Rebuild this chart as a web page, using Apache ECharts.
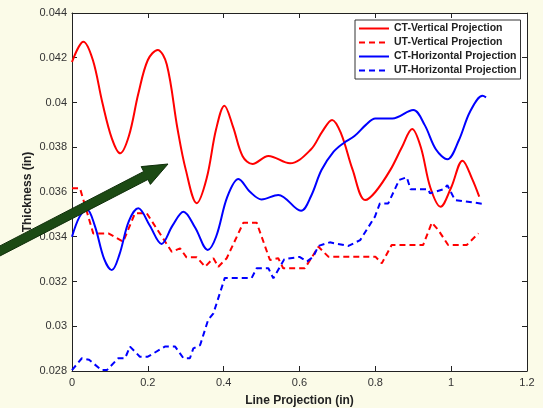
<!DOCTYPE html>
<html>
<head>
<meta charset="utf-8">
<script src="https://cdn.jsdelivr.net/npm/echarts@6/dist/echarts.min.js"></script>
<style>
html,body{margin:0;padding:0;background:#fbfbe8;}
#chart{width:543px;height:408px;}
</style>
</head>
<body>
<div id="chart"></div>
<script>
// ---- data ----
var seriesNames = ['CT-Vertical Projection', 'UT-Vertical Projection', 'CT-Horizontal Projection', 'UT-Horizontal Projection'];
var xTicks = [0, 0.2, 0.4, 0.6, 0.8, 1, 1.2];
var yTicks = [0.028, 0.03, 0.032, 0.034, 0.036, 0.038, 0.04, 0.042, 0.044];

var ctVx = [0.000,0.030,0.055,0.080,0.105,0.127,0.150,0.175,0.200,0.226,0.250,0.278,0.300,0.329,0.355,0.380,0.402,0.425,0.450,0.476,0.518,0.575,0.630,0.660,0.686,0.710,0.740,0.773,0.800,0.840,0.870,0.897,0.920,0.945,0.972,1.000,1.030,1.055,1.074];
var ctVy = [0.04181,0.04272,0.04190,0.04000,0.03840,0.03773,0.03850,0.04040,0.04190,0.04235,0.04170,0.03885,0.03700,0.03550,0.03660,0.03880,0.03986,0.03890,0.03760,0.03725,0.03761,0.03728,0.03790,0.03870,0.03922,0.03860,0.03700,0.03564,0.03600,0.03700,0.03800,0.03882,0.03800,0.03620,0.03534,0.03620,0.03740,0.03660,0.03579];

var utVx = [0.000,0.021,0.056,0.096,0.135,0.166,0.197,0.263,0.285,0.302,0.329,0.351,0.373,0.386,0.408,0.452,0.487,0.522,0.544,0.557,0.614,0.650,0.676,0.800,0.817,0.843,0.926,0.949,0.966,0.992,1.041,1.072];
var utVy = [0.03617,0.03617,0.03415,0.03415,0.03378,0.03505,0.03505,0.03333,0.03348,0.03308,0.03308,0.03266,0.03304,0.03266,0.03304,0.03463,0.03463,0.03296,0.03304,0.03259,0.03259,0.03355,0.03311,0.03311,0.03281,0.03363,0.03363,0.03463,0.03430,0.03363,0.03363,0.03415];

var ctHx = [0.000,0.020,0.039,0.060,0.085,0.105,0.125,0.150,0.175,0.205,0.236,0.265,0.294,0.325,0.358,0.380,0.410,0.439,0.470,0.500,0.544,0.604,0.630,0.658,0.690,0.716,0.745,0.775,0.800,0.845,0.900,0.930,0.960,0.990,1.020,1.050,1.083,1.092];
var ctHy = [0.03400,0.03490,0.03523,0.03450,0.03300,0.03251,0.03320,0.03470,0.03527,0.03450,0.03368,0.03450,0.03512,0.03440,0.03341,0.03400,0.03580,0.03658,0.03600,0.03567,0.03587,0.03516,0.03580,0.03698,0.03780,0.03818,0.03850,0.03900,0.03929,0.03929,0.03967,0.03900,0.03790,0.03746,0.03830,0.03960,0.04030,0.04023];

var utHx = [0.000,0.026,0.045,0.078,0.092,0.122,0.140,0.153,0.179,0.200,0.245,0.272,0.294,0.311,0.320,0.338,0.359,0.373,0.403,0.474,0.487,0.518,0.531,0.560,0.600,0.620,0.636,0.650,0.680,0.729,0.760,0.799,0.812,0.834,0.863,0.883,0.893,0.940,0.944,0.979,0.990,1.010,1.089];
var utHy = [0.02804,0.02857,0.02850,0.02804,0.02804,0.02857,0.02857,0.02909,0.02864,0.02864,0.02909,0.02909,0.02857,0.02857,0.02901,0.02916,0.03028,0.03058,0.03216,0.03216,0.03259,0.03259,0.03214,0.03300,0.03310,0.03290,0.03310,0.03359,0.03375,0.03359,0.03385,0.03490,0.03549,0.03549,0.03654,0.03666,0.03612,0.03612,0.03594,0.03612,0.03630,0.03564,0.03546];

function pairs(xs, ys){ return xs.map(function(x,i){ return [x, ys[i]]; }); }

var chart = echarts.init(document.getElementById('chart'), null, {renderer:'canvas'});
var font = 'Liberation Sans, Arial, sans-serif';
var xMin = xTicks[0], xMax = xTicks[xTicks.length-1], xInt = xTicks[1]-xTicks[0];
var yMin = yTicks[0], yMax = yTicks[yTicks.length-1], yInt = 0.002;

function yFmt(v){ return String(parseFloat(v.toFixed(3))); }
function xFmt(v){ return String(parseFloat(v.toFixed(1))); }

var option = {
  backgroundColor: '#fbfbe8',
  animation: false,
  grid: { left: 72, right: 16, top: 13, bottom: 37, containLabel: false, outerBoundsMode: 'none',
          show: true, backgroundColor: '#ffffff', borderWidth: 0 },
  legend: {
    orient: 'vertical', left: 355, top: 20,
    padding: [3, 4, 3, 3], itemGap: 3, itemWidth: 30, itemHeight: 11,
    backgroundColor: '#ffffff', borderColor: '#333', borderWidth: 1,
    itemStyle: { opacity: 0 },
    textStyle: { fontFamily: font, fontWeight: 'bold', fontSize: 10.5, color: '#222' },
    data: seriesNames
  },
  xAxis: [{
    type: 'value', min: xMin, max: xMax, interval: xInt,
    name: 'Line Projection (in)', nameLocation: 'middle', nameGap: 24, nameMoveOverlap: false,
    nameTextStyle: { fontFamily: font, fontWeight: 'bold', fontSize: 12, color: '#222' },
    axisLine: { show: true, onZero: false, lineStyle: { color: '#222', width: 1 } },
    axisTick: { show: true, inside: true, length: 5, lineStyle: { color: '#222' } },
    axisLabel: { fontFamily: font, fontSize: 11, color: '#333', margin: 6, formatter: xFmt },
    splitLine: { show: false }
  }, {
    type: 'value', position: 'top', min: xMin, max: xMax, interval: xInt,
    axisLine: { show: true, onZero: false, lineStyle: { color: '#222', width: 1 } },
    axisTick: { show: true, inside: true, length: 5, lineStyle: { color: '#222' } },
    axisLabel: { show: false }, splitLine: { show: false }
  }],
  yAxis: [{
    type: 'value', min: yMin, max: yMax, interval: yInt,
    name: 'Thickness (in)', nameLocation: 'middle', nameGap: 38, nameMoveOverlap: false,
    nameTextStyle: { fontFamily: font, fontWeight: 'bold', fontSize: 12, color: '#222' },
    axisLine: { show: true, onZero: false, lineStyle: { color: '#222', width: 1 } },
    axisTick: { show: true, inside: true, length: 5, lineStyle: { color: '#222' } },
    axisLabel: { fontFamily: font, fontSize: 11, color: '#333', margin: 5, formatter: yFmt },
    splitLine: { show: false }
  }, {
    type: 'value', position: 'right', min: yMin, max: yMax, interval: yInt,
    axisLine: { show: true, onZero: false, lineStyle: { color: '#222', width: 1 } },
    axisTick: { show: true, inside: true, length: 5, lineStyle: { color: '#222' } },
    axisLabel: { show: false }, splitLine: { show: false }
  }],
  series: [
    { name: seriesNames[0], type: 'line', data: pairs(ctVx, ctVy), smooth: 0.35, showSymbol: false, symbol: 'none',
      lineStyle: { color: '#ff0000', width: 2 }, itemStyle: { color: '#ff0000' } },
    { name: seriesNames[1], type: 'line', data: pairs(utVx, utVy), smooth: false, showSymbol: false, symbol: 'none',
      lineStyle: { color: '#ff0000', width: 2, type: [6, 4] }, itemStyle: { color: '#ff0000' } },
    { name: seriesNames[2], type: 'line', data: pairs(ctHx, ctHy), smooth: 0.35, showSymbol: false, symbol: 'none',
      lineStyle: { color: '#0000ff', width: 2 }, itemStyle: { color: '#0000ff' } },
    { name: seriesNames[3], type: 'line', data: pairs(utHx, utHy), smooth: false, showSymbol: false, symbol: 'none',
      lineStyle: { color: '#0000ff', width: 2, type: [6, 4] }, itemStyle: { color: '#0000ff' } }
  ],
  graphic: [{
    type: 'polygon', z: 100,
    shape: { points: [[-7, 249.5], [143.7, 171.5], [141.2, 166.6], [168, 164], [150.4, 184.4], [147.9, 179.5], [-3, 257.5]] },
    style: { fill: '#1c4a14', stroke: '#0f2e0a', lineWidth: 1 }
  }]
};
chart.setOption(option);
</script>
</body>
</html>
